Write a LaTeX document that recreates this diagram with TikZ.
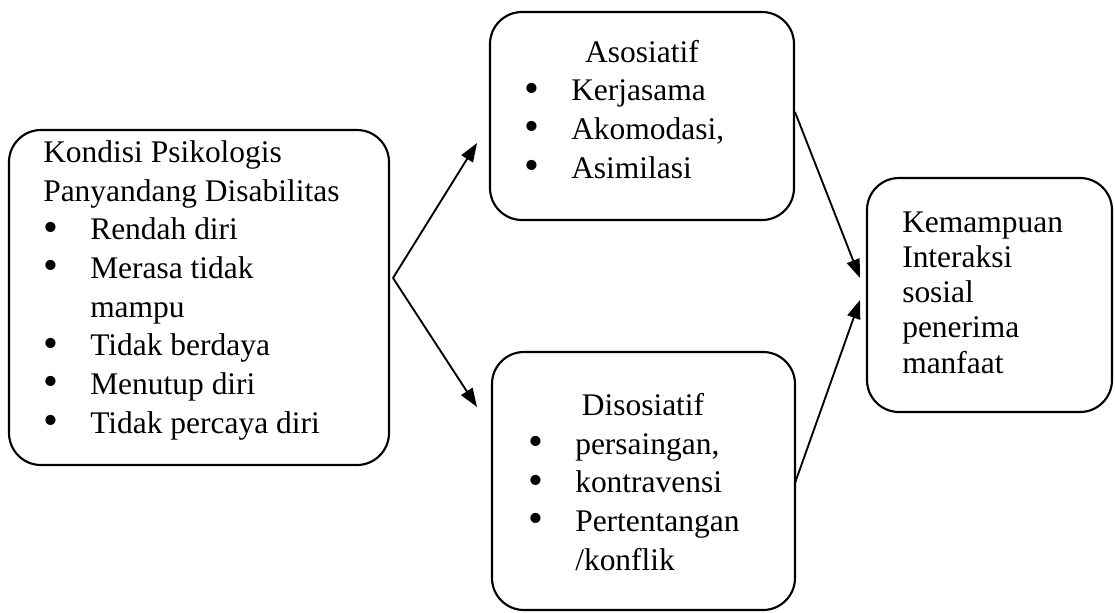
\documentclass[tikz,border=0pt]{standalone}
\usepackage{fontspec}
\setmainfont{Liberation Serif}
\usetikzlibrary{arrows.meta}
\newcommand{\bl}[1]{\makebox[35.25pt][l]{\raisebox{-0.05em}{\scalebox{1.35}{\textbullet}}}#1}
\newcommand{\ind}[1]{\hspace*{35.25pt}#1}
\begin{document}
\begin{tikzpicture}[x=0.75pt,y=-0.75pt,
  box/.style={draw, line width=1.6pt, rounded corners=24pt, inner sep=0pt},
  txt/.style={inner sep=0pt, align=left, font=\fontsize{23.6}{29}\selectfont},
  rtxt/.style={inner sep=0pt, align=left, font=\fontsize{23.6}{26.4}\selectfont},
  hd/.style={inner sep=0pt, font=\fontsize{23.6}{29}\selectfont},
  arr/.style={line width=1.4pt, -{Triangle[length=14pt,width=10pt]}}]
\path[use as bounding box] (0,0) rectangle (1115,612);

\node[box, minimum width=285pt, minimum height=251.25pt] (L) at (199,297.5) {};
\node[box, minimum width=228pt, minimum height=156pt] (A) at (642,116) {};
\node[box, minimum width=227.25pt, minimum height=193.5pt] (D) at (643.5,481) {};
\node[box, minimum width=183.75pt, minimum height=175.5pt] (R) at (989.5,295) {};

\node[txt, anchor=base west] (Ltxt) at (43,433) {Kondisi Psikologis\\Panyandang Disabilitas\\\bl{Rendah diri}\\\bl{Merasa tidak}\\\ind{mampu}\\\bl{Tidak berdaya}\\\bl{Menutup diri}\\\bl{Tidak percaya diri}};

\node[hd, anchor=base] (Ahd) at (642,62) {Asosiatif};
\node[txt, anchor=base west] (Atxt) at (524,178) {\bl{Kerjasama}\\\bl{Akomodasi,}\\\bl{Asimilasi}};

\node[hd, anchor=base] (Dhd) at (643,415) {Disosiatif};
\node[txt, anchor=base west] (Dtxt) at (528,570) {\bl{persaingan,}\\\bl{kontravensi}\\\bl{Pertentangan}\\\ind{/konflik}};

\node[rtxt, anchor=base west] (Rtxt) at (902,373) {Kemampuan\\Interaksi\\sosial\\penerima\\manfaat};

\coordinate (v) at (393,278);
\coordinate (a1) at (477,143);
\coordinate (a2) at (477,407);
\coordinate (s1) at (795,112);
\coordinate (t1) at (860,278);
\coordinate (s2) at (795,483);
\coordinate (t2) at (860,300);

\draw[arr] (v) -- (a1);
\draw[arr] (v) -- (a2);
\draw[arr] (s1) -- (t1);
\draw[arr] (s2) -- (t2);
\end{tikzpicture}
\end{document}
